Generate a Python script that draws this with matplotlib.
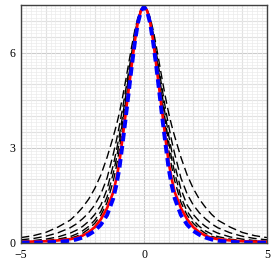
import numpy as np
import matplotlib.pyplot as plt
from matplotlib.ticker import MultipleLocator

# half-profiles (curves are symmetric about x = 0)
x_half = [0, 0.125, 0.25, 0.375, 0.5, 0.625, 0.75, 0.875, 1.0, 1.125, 1.25,
          1.5, 1.75, 2.0, 2.25, 2.5, 2.75, 3.0, 3.5, 4.0, 4.5, 5.0]

black_curves = [
    [7.45, 7.35, 7.10, 6.70, 6.20, 5.65, 5.10, 4.58, 4.10, 3.70, 3.35,
     2.70, 2.15, 1.72, 1.38, 1.12, 0.90, 0.72, 0.50, 0.33, 0.23, 0.17],
    [7.45, 7.34, 7.05, 6.60, 6.00, 5.40, 4.80, 4.22, 3.70, 3.22, 2.80,
     2.05, 1.55, 1.20, 0.95, 0.76, 0.60, 0.48, 0.32, 0.21, 0.14, 0.10],
    [7.45, 7.33, 7.00, 6.50, 5.90, 5.25, 4.60, 3.98, 3.40, 2.90, 2.45,
     1.70, 1.20, 0.90, 0.68, 0.52, 0.40, 0.31, 0.19, 0.12, 0.075, 0.05],
    [7.45, 7.33, 7.00, 6.45, 5.80, 5.12, 4.45, 3.80, 3.20, 2.65, 2.20,
     1.45, 1.00, 0.72, 0.52, 0.38, 0.28, 0.20, 0.12, 0.075, 0.05, 0.04],
    [7.45, 7.33, 7.00, 6.40, 5.70, 5.00, 4.30, 3.60, 2.95, 2.40, 1.95,
     1.28, 0.88, 0.62, 0.44, 0.30, 0.21, 0.15, 0.09, 0.06, 0.04, 0.03],
]
red_curve = [7.45, 7.32, 6.95, 6.35, 5.60, 4.82, 4.05, 3.28, 2.55, 2.02, 1.60,
             1.10, 0.75, 0.50, 0.34, 0.23, 0.16, 0.12, 0.08, 0.055, 0.045, 0.035]
blue_curve = [7.45, 7.30, 6.92, 6.30, 5.55, 4.72, 3.90, 3.10, 2.35, 1.82, 1.40,
              0.88, 0.58, 0.38, 0.26, 0.17, 0.11, 0.07, 0.035, 0.02, 0.012, 0.008]

x_ticks = [-5, 0, 5]
y_ticks = [0, 3, 6]


def full(xh, yh):
    # mirror a half-profile to the negative side
    xs = np.concatenate([-np.array(xh[:0:-1]), xh])
    ys = np.concatenate([np.array(yh[:0:-1]), yh])
    return xs, ys


fig = plt.figure(figsize=(2.73, 2.73), dpi=100)
ax = fig.add_axes([0.077, 0.11, 0.901, 0.872])

for yh in black_curves:
    xs, ys = full(x_half, yh)
    ax.plot(xs, ys, color='black', lw=1.0, dashes=(6, 3))

xs, ys = full(x_half, red_curve)
ax.plot(xs, ys, color='red', lw=1.9)
xs, ys = full(x_half, blue_curve)
ax.plot(xs, ys, color='blue', lw=2.8, dashes=(2.2, 1.2))

ax.set_xlim(-5, 5)
ax.set_ylim(0, 7.5)
ax.set_xticks(x_ticks)
ax.set_yticks(y_ticks)

# major/minor grid, maple style
ax.xaxis.set_minor_locator(MultipleLocator(0.2))
ax.yaxis.set_minor_locator(MultipleLocator(0.1))
ax.grid(False)
for v in np.arange(-5, 5.01, 1.0):
    ax.axvline(v, color='#cccccc', lw=0.8, zorder=0)
for v in np.arange(0, 7.51, 0.5):
    ax.axhline(v, color='#cccccc', lw=0.8, zorder=0)
ax.grid(True, which='minor', color='#ebebeb', lw=0.5, zorder=0)
ax.set_axisbelow(True)

ax.tick_params(which='both', length=0)
ax.tick_params(labelsize=8.5, pad=4)
for lab in ax.get_xticklabels() + ax.get_yticklabels():
    lab.set_fontfamily('Liberation Serif')

for s in ax.spines.values():
    s.set_color('#404040')
    s.set_linewidth(1.0)

fig.savefig('out.png', dpi=100)
